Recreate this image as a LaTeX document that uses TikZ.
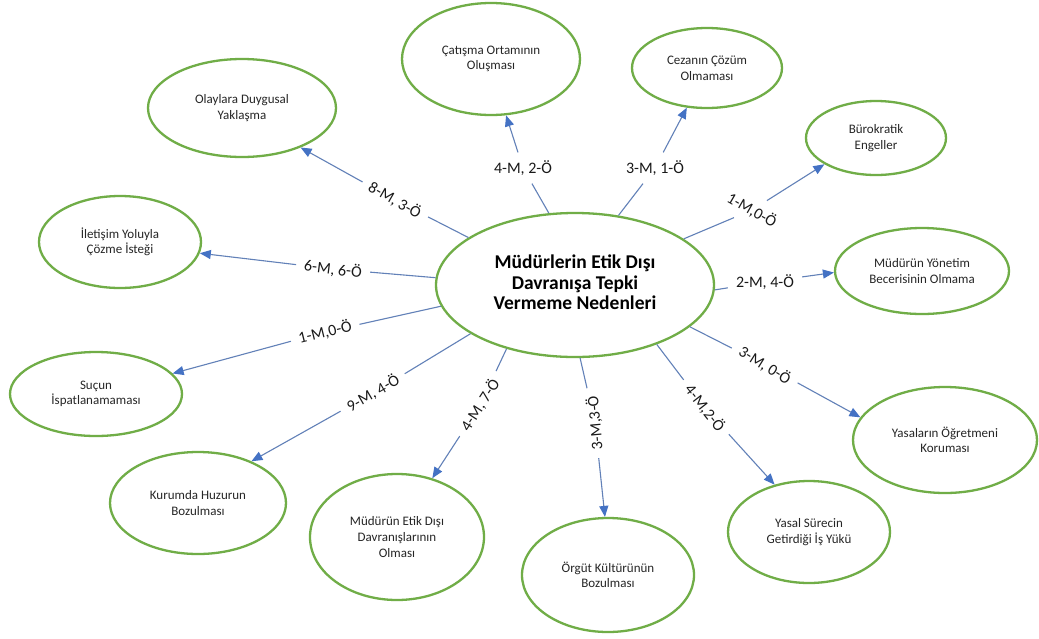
\documentclass[tikz,border=0pt]{standalone}
\usepackage{fontspec}
\setmainfont{Carlito}
\usetikzlibrary{shapes.geometric,arrows.meta}
\definecolor{ringgreen}{HTML}{70AD47}
\definecolor{linkblue}{HTML}{4472C4}
\definecolor{linkline}{HTML}{6281B8}
\tikzset{
  idea/.style={ellipse, draw=ringgreen, line width=2.3pt, inner sep=0pt,
    align=center, text=black!85, font=\fontsize{13}{15.6}\selectfont},
  hub/.style={idea, text=black, font=\fontsize{19.5}{21.5}\selectfont\bfseries},
  count/.style={inner sep=8pt, text=black!90, font=\fontsize{16}{18}\selectfont},
  link/.style={draw=linkline, line width=1.1pt},
  pointer/.style={link, -{Triangle[length=11pt,width=9pt,fill=linkblue,color=linkblue]}}
}
\begin{document}
\begin{tikzpicture}[x=1pt,y=-1pt]
\fill[white] (0,0) rectangle (1039,638);
\useasboundingbox (0,0) rectangle (1039,638);

% central topic
\node[hub, minimum width=278pt, minimum height=144pt] (c) at (575,285)
  {\raisebox{-4pt}{\begin{tabular}{@{}c@{}}Müdürlerin Etik Dışı\\[-1pt]Davranışa Tepki\\[-1pt]Vermeme Nedenleri\end{tabular}}};

% reasons around it
\node[idea, minimum width=188pt, minimum height=98pt]  (ola) at (242,108) {Olaylara Duygusal\\Yaklaşma};
\node[idea, minimum width=178pt, minimum height=112pt] (cat) at (491,59)  {Çatışma Ortamının\\Oluşması};
\node[idea, minimum width=150pt, minimum height=80pt]  (cez) at (707,68)  {Cezanın Çözüm\\Olmaması};
\node[idea, minimum width=140pt, minimum height=74pt]  (bur) at (876,138) {Bürokratik\\Engeller};
\node[idea, minimum width=174pt, minimum height=86pt]  (yon) at (922,271) {Müdürün Yönetim\\Becerisinin Olmama};
\node[idea, minimum width=184pt, minimum height=106pt] (yas) at (945,440) {Yasaların Öğretmeni\\Koruması};
\node[idea, minimum width=162pt, minimum height=102pt] (ysl) at (809,532) {Yasal Sürecin\\Getirdiği İş Yükü};
\node[idea, minimum width=172pt, minimum height=114pt] (org) at (608,575) {Örgüt Kültürünün\\Bozulması};
\node[idea, minimum width=174pt, minimum height=126pt] (met) at (397,537) {Müdürün Etik Dışı\\Davranışlarının\\Olması};
\node[idea, minimum width=176pt, minimum height=102pt] (kur) at (198,503) {Kurumda Huzurun\\Bozulması};
\node[idea, minimum width=172pt, minimum height=84pt]  (suc) at (96,394)  {Suçun\\İspatlanamaması};
\node[idea, minimum width=162pt, minimum height=92pt]  (ile) at (120,242) {İletişim Yoluyla\\Çözme İsteği};

% counts written on the links
\node[count, rotate=-30] (n1)  at (395,200) {8-M, 3-Ö};
\node[count]             (n2)  at (523,168) {4-M, 2-Ö};
\node[count]             (n3)  at (655,168) {3-M, 1-Ö};
\node[count, rotate=-30] (n4)  at (752,210) {1-M,0-Ö};
\node[count]             (n5)  at (765,282) {2-M, 4-Ö};
\node[count, rotate=-32] (n6)  at (765,365) {3-M, 0-Ö};
\node[count, rotate=-52] (n7)  at (705,408) {4-M,2-Ö};
\node[count, rotate=95]  (n8)  at (595,423) {3-M,3-Ö};
\node[count, rotate=57]  (n9)  at (480,405) {4-M, 7-Ö};
\node[count, rotate=30]  (n10) at (373,393) {9-M, 4-Ö};
\node[count, rotate=14]  (n11) at (325,332) {1-M,0-Ö};
\node[count, rotate=-7]  (n12) at (333,269) {6-M, 6-Ö};

% links: hub -> count -> reason
\draw[link] (c.156) -- (n1);  \draw[pointer] (n1)  -- (ola.-34);
\draw[link] (c.110) -- (n2);  \draw[pointer] (n2)  -- (cat.-75);
\draw[link] (c.58)  -- (n3);  \draw[pointer] (n3)  -- (cez.-117);
\draw[link] (c.23)  -- (n4);  \draw[pointer] (n4)  -- (bur.207);
\draw[link] (c.-2)  -- (n5);  \draw[pointer] (n5)  -- (yon.181);
\draw[link] (c.-20) -- (n6);  \draw[pointer] (n6)  -- (yas.165);
\draw[link] (c.-36) -- (n7);  \draw[pointer] (n7)  -- (ysl.126);
\draw[link] (c.-86) -- (n8);  \draw[pointer] (n8)  -- (org.93);
\draw[link] (c.223) -- (n9);  \draw[pointer] (n9)  -- (met.59);
\draw[link] (c.205) -- (n10); \draw[pointer] (n10) -- (kur.38);
\draw[link] (c.189) -- (n11); \draw[pointer] (n11) -- (suc.15);
\draw[link] (c.177) -- (n12); \draw[pointer] (n12) -- (ile.-8);
\end{tikzpicture}
\end{document}
